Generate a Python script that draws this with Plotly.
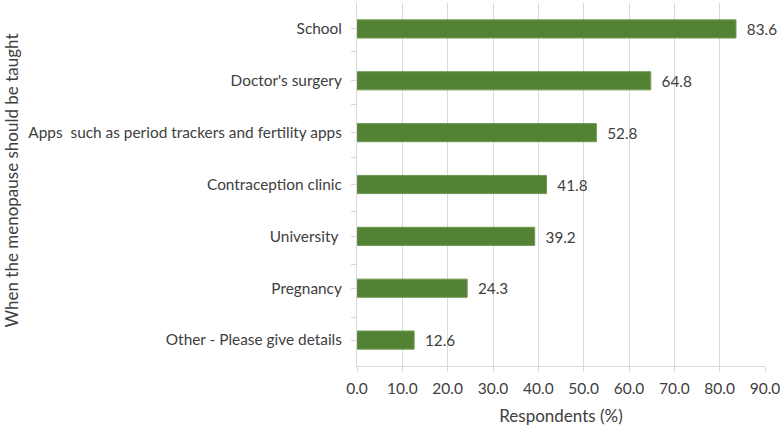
import plotly.graph_objects as go

categories = [
    "School",
    "Doctor's surgery",
    "Apps  such as period trackers and fertility apps",
    "Contraception clinic",
    "University ",
    "Pregnancy",
    "Other - Please give details",
]
values = [83.6, 64.8, 52.8, 41.8, 39.2, 24.3, 12.6]
x_ticks = [0, 10, 20, 30, 40, 50, 60, 70, 80, 90]

FONT = "Lato, Carlito, Calibri, sans-serif"
TXT = "#404040"
AX = "#d9d9d9"

fig = go.Figure()
fig.add_trace(
    go.Bar(
        x=values,
        y=categories,
        orientation="h",
        marker=dict(color="#548235", line=dict(color="#6f9a52", width=1)),
        text=[f"  {v:.1f}" for v in values],
        textposition="outside",
        textfont=dict(family=FONT, size=16, color=TXT),
        cliponaxis=False,
        width=0.35,
        hoverinfo="x+y",
    )
)
# ghost trace to carry the boundary tick marks on an overlaid category axis
fig.add_trace(
    go.Scatter(
        x=values,
        y=categories,
        yaxis="y2",
        mode="markers",
        marker=dict(opacity=0),
        hoverinfo="skip",
        showlegend=False,
    )
)

fig.update_layout(
    width=782,
    height=426,
    margin=dict(l=357, r=17, t=3, b=60, autoexpand=False),
    paper_bgcolor="white",
    plot_bgcolor="white",
    showlegend=False,
    font=dict(family=FONT, size=15, color=TXT),
    xaxis=dict(
        range=[0, 90],
        tickvals=x_ticks,
        ticktext=[f"{t:.1f}" for t in x_ticks],
        showgrid=True,
        gridcolor=AX,
        gridwidth=1,
        zeroline=False,
        showline=True,
        linecolor=AX,
        ticks="outside",
        ticklen=5,
        tickcolor=AX,
        ticklabelstandoff=3,
        tickfont=dict(family=FONT, size=15.5, color=TXT),
        title=dict(text="Respondents (%)", font=dict(family=FONT, size=17, color=TXT), standoff=14),
        automargin=False,
        fixedrange=True,
    ),
    yaxis=dict(
        type="category",
        categoryorder="array",
        categoryarray=categories,
        autorange="reversed",
        showgrid=False,
        showline=True,
        linecolor=AX,
        ticks="outside",
        ticklen=5,
        tickcolor=AX,
        ticklabelstandoff=6,
        tickfont=dict(family=FONT, size=15.4, color=TXT),
        automargin=False,
        fixedrange=True,
    ),
    yaxis2=dict(
        type="category",
        categoryorder="array",
        categoryarray=categories,
        autorange="reversed",
        overlaying="y",
        side="left",
        showgrid=False,
        showline=False,
        showticklabels=False,
        ticks="outside",
        tickson="boundaries",
        ticklen=5,
        tickcolor=AX,
        automargin=False,
        fixedrange=True,
    ),
    annotations=[
        dict(
            text="When the menopause should be taught",
            xref="paper",
            yref="paper",
            x=0,
            y=0.5,
            xanchor="center",
            yanchor="middle",
            xshift=-346,
            yshift=4,
            textangle=-90,
            showarrow=False,
            font=dict(family=FONT, size=17, color=TXT),
        )
    ],
)

fig.write_html(
    "out.html",
    config={"displayModeBar": False},
    post_script="document.body.style.margin='0';document.body.style.overflow='hidden';",
)
